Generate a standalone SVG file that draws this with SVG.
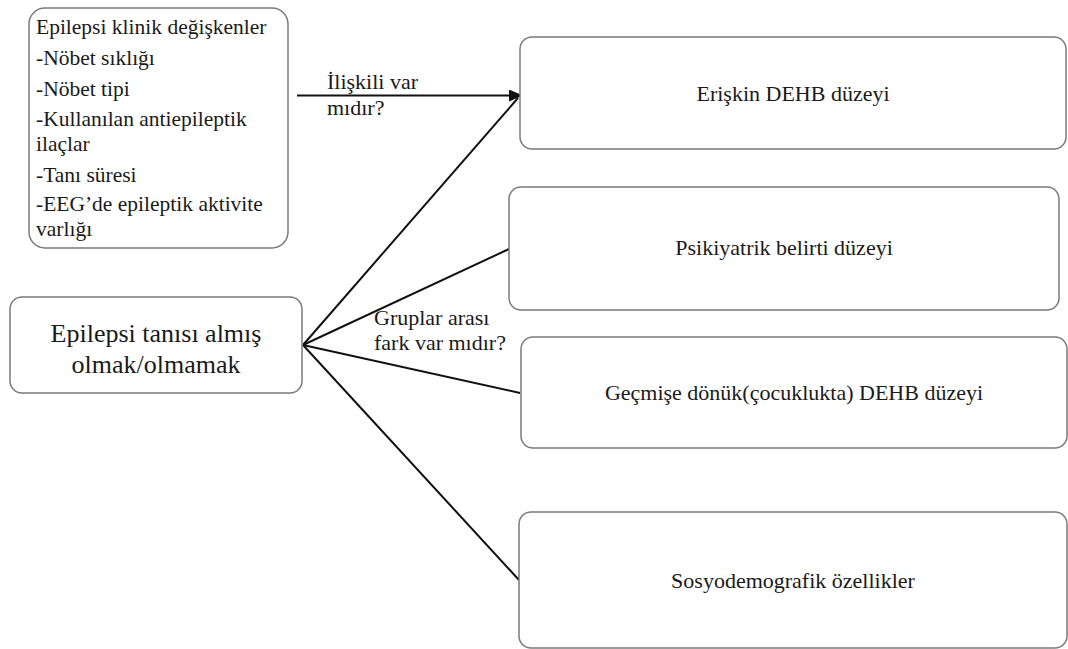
<svg xmlns="http://www.w3.org/2000/svg" width="1068" height="649" viewBox="0 0 1068 649">
<defs>
<style>
.box{fill:#fff;stroke:#7a7a7a;stroke-width:1.5}
.t{font-family:"Liberation Serif","Times New Roman",serif;font-size:22px;fill:#1a1a1a}
.s{font-size:21.5px}
.c{text-anchor:middle}
.big{font-size:26px}
.ln{stroke:#111;stroke-width:2;fill:none}
</style>
<marker id="ah" markerWidth="14" markerHeight="12" refX="13" refY="6" orient="auto" markerUnits="userSpaceOnUse">
<path d="M0,0 L14,6 L0,12 Z" fill="#111"/>
</marker>
</defs>
<rect width="1068" height="649" fill="#fff"/>
<g id="connectors">
<line class="ln" x1="297" y1="95.5" x2="522" y2="95.5" marker-end="url(#ah)"/>
<line class="ln" x1="303" y1="345" x2="518" y2="98"/>
<line class="ln" x1="303" y1="345" x2="509" y2="249"/>
<line class="ln" x1="303" y1="345" x2="520" y2="393"/>
<line class="ln" x1="303" y1="345" x2="519" y2="580"/>
<text class="t" x="327" y="89">İlişkili var</text>
<text class="t" x="327" y="115">mıdır?</text>
<text class="t" x="374" y="325">Gruplar arası</text>
<text class="t" x="374" y="350">fark var mıdır?</text>
</g>
<g id="clinical">
<rect class="box" x="29" y="8" width="259" height="240" rx="16"/>
<text class="t s" x="36" y="34">Epilepsi klinik değişkenler</text>
<text class="t s" x="36" y="65">-Nöbet sıklığı</text>
<text class="t s" x="36" y="96">-Nöbet tipi</text>
<text class="t s" x="36" y="126">-Kullanılan antiepileptik</text>
<text class="t s" x="36" y="151">ilaçlar</text>
<text class="t s" x="36" y="182">-Tanı süresi</text>
<text class="t s" x="36" y="211">-EEG’de epileptik aktivite</text>
<text class="t s" x="36" y="236">varlığı</text>
</g>
<g id="diagnosis">
<rect class="box" x="10" y="297" width="292" height="96" rx="12"/>
<text class="t c big" x="156" y="342">Epilepsi tanısı almış</text>
<text class="t c big" x="156" y="373">olmak/olmamak</text>
</g>
<g id="adult">
<rect class="box" x="520" y="37" width="546" height="112" rx="12"/>
<text class="t c" x="793" y="101">Erişkin DEHB düzeyi</text>
</g>
<g id="psychiatric">
<rect class="box" x="509" y="187" width="550" height="123" rx="12"/>
<text class="t c" x="784" y="255">Psikiyatrik belirti düzeyi</text>
</g>
<g id="childhood">
<rect class="box" x="521" y="337" width="546" height="111" rx="12"/>
<text class="t c" x="794" y="400">Geçmişe dönük(çocuklukta) DEHB düzeyi</text>
</g>
<g id="sociodemographic">
<rect class="box" x="519" y="512" width="548" height="136" rx="12"/>
<text class="t c" x="793" y="588">Sosyodemografik özellikler</text>
</g>
</svg>
